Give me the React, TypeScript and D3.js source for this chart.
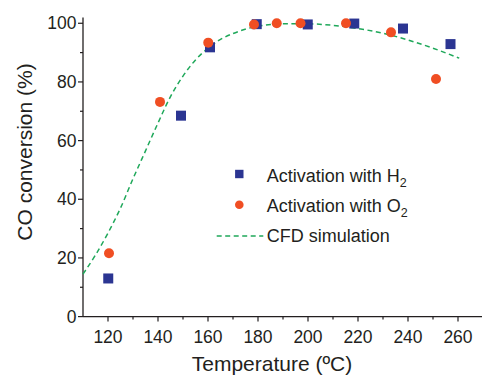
import * as d3 from 'd3';

// measured points
const h2Temp = [120.1, 149.2, 160.8, 179.5, 199.9, 218.5, 238, 257];
const h2Conv = [13, 68.5, 91.8, 99.7, 99.6, 99.9, 98.2, 92.9];

const o2Temp = [120.4, 140.8, 160.1, 178.4, 187.5, 197, 215.2, 233.2, 251.2];
const o2Conv = [21.6, 73.2, 93.4, 99.6, 100, 100, 100, 96.9, 81];

// CFD simulation curve
const cfdTemp = [110, 115, 120, 125, 130, 135, 140, 145, 150, 155, 160, 165, 170, 180, 190, 200, 210, 220, 230, 240, 250, 260.5];
const cfdConv = [14.5, 21, 28.5, 37, 47, 56.5, 66, 75, 82, 87.5, 91.5, 94.5, 96.5, 99, 99.8, 99.8, 99.3, 98.2, 96.6, 94.3, 91.5, 88.1];

const xTicks = [120, 140, 160, 180, 200, 220, 240, 260];
const xMinor = [130, 150, 170, 190, 210, 230, 250, 270];
const yTicks = [0, 20, 40, 60, 80, 100];
const yMinor = [10, 30, 50, 70, 90];

const legendItems = ['H', 'O'];

const W = 482;
const H = 378;
const blue = '#2b3592';
const orange = '#f04e23';
const green = '#1fa85a';
const ink = '#231f20';
const font = '"Liberation Sans", Arial, sans-serif';

export default function App() {
  const x = d3.scaleLinear().domain([110, 270]).range([83, 483]);
  const y = d3.scaleLinear().domain([0, 102]).range([316.6, 17.4]);

  const line = d3.line<number>()
    .x((_, i) => x(cfdTemp[i]))
    .y(d => y(d))
    .curve(d3.curveMonotoneX);

  const x0 = x.range()[0];
  const y0 = y.range()[0];

  return (
    <svg width={W} height={H} style={{ position: 'absolute', left: 0, top: 0 }} fontFamily={font}>
      <rect width={W} height={H} fill="#fff" />

      {/* axes */}
      <line x1={x0} x2={x.range()[1]} y1={y0} y2={y0} stroke={ink} strokeWidth={1.3} />
      <line x1={x0} x2={x0} y1={y0} y2={y.range()[1]} stroke={ink} strokeWidth={1.3} />

      {xTicks.map(t => (
        <g key={'x' + t}>
          <line x1={x(t)} x2={x(t)} y1={y0} y2={y0 + 5} stroke={ink} strokeWidth={1.2} />
          <text x={x(t)} y={342.7} textAnchor="middle" fontSize={17.5} fill={ink}>{t}</text>
        </g>
      ))}
      {xMinor.map(t => (
        <line key={'xm' + t} x1={x(t)} x2={x(t)} y1={y0} y2={y0 + 3} stroke={ink} strokeWidth={1.2} />
      ))}
      {yTicks.map(t => (
        <g key={'y' + t}>
          <line x1={x0 - 5} x2={x0} y1={y(t)} y2={y(t)} stroke={ink} strokeWidth={1.2} />
          <text x={x0 - 6.5} y={y(t)} dy="0.35em" textAnchor="end" fontSize={17.5} fill={ink}>{t}</text>
        </g>
      ))}
      {yMinor.map(t => (
        <line key={'ym' + t} x1={x0 - 3} x2={x0} y1={y(t)} y2={y(t)} stroke={ink} strokeWidth={1.2} />
      ))}

      {/* axis titles */}
      <text x={272} y={371} textAnchor="middle" fontSize={21} fill={ink}>Temperature (ºC)</text>
      <text transform="translate(31.5,152) rotate(-90)" textAnchor="middle" fontSize={21} fill={ink}>CO conversion (%)</text>

      {/* CFD curve */}
      <path d={line(cfdConv) ?? ''} fill="none" stroke={green} strokeWidth={1.5} strokeDasharray="5,3.5" />

      {/* H2 squares */}
      {h2Conv.map((v, i) => (
        <rect key={'h' + i} x={x(h2Temp[i]) - 5} y={y(v) - 5} width={10} height={10} fill={blue} />
      ))}
      {/* O2 circles */}
      {o2Conv.map((v, i) => (
        <circle key={'o' + i} cx={x(o2Temp[i])} cy={y(v)} r={5} fill={orange} />
      ))}

      {/* legend */}
      {legendItems.map((el, i) => {
        const base = 181.7 + i * 30;
        return (
          <g key={el}>
            {i === 0
              ? <rect x={239.3 - 4.2} y={base - 7.7 - 4.2} width={8.4} height={8.4} fill={blue} />
              : <circle cx={239.3} cy={base - 7} r={4.3} fill={orange} />}
            <text x={266.7} y={base} fontSize={18} fill={ink}>
              Activation with {el}
              <tspan fontSize={12.5} dy={5}>2</tspan>
            </text>
          </g>
        );
      })}
      <line x1={216.7} x2={263.3} y1={236} y2={236} stroke={green} strokeWidth={1.5} strokeDasharray="5,3.5" />
      <text x={266.7} y={241.7} fontSize={18} fill={ink}>CFD simulation</text>
    </svg>
  );
}
